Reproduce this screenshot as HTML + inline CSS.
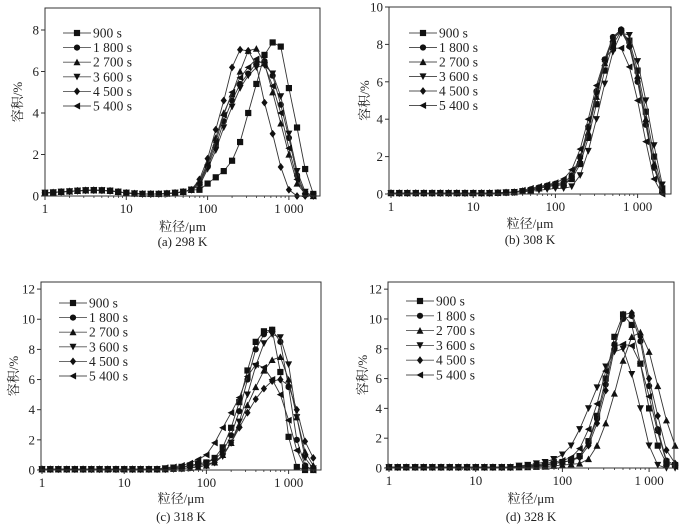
<!DOCTYPE html>
<html><head><meta charset="utf-8">
<style>
html,body{margin:0;padding:0;background:#fff;}
svg{display:block;}
text{font-family:"Liberation Serif","Noto Serif CJK SC",serif;fill:#222;}
</style></head>
<body>
<svg id="chart" width="685" height="529" viewBox="0 0 685 529" xmlns="http://www.w3.org/2000/svg"></svg>
<script>
// ---- data ----
const xSizes = [1,1.26,1.58,2,2.51,3.16,3.98,5.01,6.31,7.94,10,12.6,15.8,20,25.1,31.6,39.8,50.1,63.1,79.4,100,126,158,200,251,316,398,501,631,794,1000,1259,1585,1995];
const seriesNames = ["900 s","1 800 s","2 700 s","3 600 s","4 500 s","5 400 s"];
const xTickValues = [1,10,100,1000];
const xTickLabels = ["1","10","100","1 000"];
const yTicksA = [0,2,4,6,8];
const yTicksB = [0,2,4,6,8,10];
const yTicksC = [0,2,4,6,8,10,12];
const yTicksD = [0,2,4,6,8,10,12];

const lowA = [0.15,0.17,0.2,0.22,0.25,0.27,0.28,0.27,0.25,0.2,0.15,0.12,0.1,0.1,0.1,0.12,0.15,0.2,0.3];
const a900  = [...lowA,0.3,0.6,0.9,1.2,1.7,2.6,4.0,5.4,6.8,7.4,7.2,5.2,3.3,1.3,0.1];
const a1800 = [...lowA,0.6,1.4,2.4,3.6,4.6,5.4,5.9,6.4,6.5,5.8,4.4,2.8,1.0,0.1,0];
const a2700 = [...lowA,0.7,1.6,2.8,4.0,4.9,6.0,7.0,7.1,6.4,5.0,3.5,2.0,0.6,0.1,0];
const a3600 = [...lowA,0.5,1.3,2.2,3.3,4.3,5.2,5.8,6.2,6.3,5.9,4.8,3.0,1.2,0.2,0];
const a4500 = [...lowA,0.8,1.8,3.2,4.6,6.2,7.05,7.0,6.3,4.5,3.0,1.4,0.3,0,0,0];
const a5400 = [...lowA,0.6,1.5,2.6,3.9,5.0,5.7,6.2,6.6,6.3,5.3,4.0,2.3,0.8,0.1,0];

const lowB = [0.05,0.05,0.05,0.05,0.05,0.05,0.05,0.05,0.05,0.05,0.05,0.05,0.05,0.06,0.08];
const b900  = [...lowB,0.1,0.15,0.2,0.3,0.4,0.5,0.5,0.8,1.6,3.0,4.8,6.6,8.0,8.7,8.2,6.6,4.4,2.0,0.3];
const b1800 = [...lowB,0.1,0.15,0.25,0.35,0.45,0.55,0.6,1.0,2.0,3.6,5.5,7.2,8.4,8.8,7.9,6.0,3.7,1.4,0.1];
const b2700 = [...lowB,0.1,0.15,0.2,0.3,0.4,0.45,0.5,0.9,1.8,3.3,5.2,7.0,8.3,8.8,8.0,6.3,4.0,1.6,0.2];
const b3600 = [...lowB,0.1,0.12,0.15,0.2,0.25,0.3,0.3,0.4,1.0,2.3,4.0,5.9,7.6,8.6,8.5,7.1,5.0,2.6,0.5];
const b4500 = [...lowB,0.1,0.15,0.2,0.3,0.4,0.45,0.5,0.9,1.9,3.5,5.4,7.1,8.3,8.7,7.9,6.2,3.9,1.5,0.1];
const b5400 = [...lowB,0.1,0.2,0.3,0.4,0.5,0.6,0.8,1.3,2.4,4.0,5.8,7.2,7.8,7.8,6.8,5.0,2.8,0.8,0];

const lowC = [0.05,0.05,0.05,0.05,0.05,0.05,0.05,0.05,0.05,0.05,0.05,0.05,0.05,0.05,0.05];
const c900  = [...lowC,0.1,0.15,0.2,0.3,0.4,0.5,0.8,1.5,2.8,4.5,6.6,8.5,9.2,9.3,6.5,2.2,0.2,0,0];
const c1800 = [...lowC,0.1,0.15,0.2,0.3,0.4,0.5,0.7,1.2,2.3,3.9,6.0,8.0,9.0,9.3,8.5,5.5,2.0,0.3,0];
const c2700 = [...lowC,0.05,0.08,0.1,0.15,0.2,0.3,0.5,1.0,1.8,3.0,4.3,5.5,6.6,7.3,7.5,6.0,3.5,1.2,0.3];
const c3600 = [...lowC,0.1,0.15,0.2,0.25,0.3,0.4,0.5,0.9,1.8,3.2,5.0,6.9,8.4,9.0,8.8,7.0,3.5,0.8,0.1];
const c4500 = [...lowC,0.05,0.08,0.1,0.15,0.2,0.3,0.5,1.0,1.8,2.8,3.8,4.7,5.4,5.9,6.0,5.6,4.0,1.9,0.8];
const c5400 = [...lowC,0.15,0.2,0.3,0.45,0.7,1.0,1.8,2.8,3.8,4.8,6.2,7.0,6.8,6.0,5.0,3.3,1.3,0.2,0];

const lowD = [0.05,0.05,0.05,0.05,0.05,0.05,0.05,0.05,0.05,0.05,0.05,0.05,0.05,0.05,0.05];
const d900  = [...lowD,0.1,0.12,0.15,0.2,0.3,0.4,0.5,0.8,1.8,3.5,6.0,8.8,10.3,9.6,7.0,4.0,1.5,0.3,0.2];
const d1800 = [...lowD,0.1,0.12,0.15,0.2,0.3,0.4,0.5,0.8,1.7,3.3,5.6,8.3,10.0,10.2,8.5,5.5,2.6,0.5,0.2];
const d2700 = [...lowD,0.05,0.06,0.08,0.1,0.15,0.2,0.25,0.3,0.6,1.5,3.0,5.0,7.2,8.8,9.1,7.8,5.5,3.2,1.5];
const d3600 = [...lowD,0.15,0.2,0.3,0.4,0.6,0.9,1.5,2.6,4.0,5.4,6.8,7.8,8.0,6.3,4.0,1.5,0.2,0,0];
const d4500 = [...lowD,0.1,0.12,0.15,0.2,0.3,0.4,0.5,0.7,1.5,3.0,5.2,8.0,10.3,10.4,8.8,6.0,3.5,1.2,0.3];
const d5400 = [...lowD,0.1,0.15,0.2,0.3,0.4,0.5,0.7,1.3,2.6,4.3,6.5,8.2,8.3,8.2,7.0,4.8,2.4,0.4,0.1];

// ---- layout ----
const panels = [
 {id:"a", L:45,R:320,T:8,B:196, x0:45,dec:81.3, yMax:9.06, yt:yTicksA, series:[a900,a1800,a2700,a3600,a4500,a5400],
  legX:63, legY:33, legDy:14.6, xlabY:231, capY:246, capText:"(a) 298 K", ylabX:18},
 {id:"b", L:389,R:671,T:7,B:194, x0:391,dec:82.2, yMax:10, yt:yTicksB, series:[b900,b1800,b2700,b3600,b4500,b5400],
  legX:409, legY:33, legDy:14.5, xlabY:228, capY:244, capText:"(b) 308 K", ylabX:365},
 {id:"c", L:41,R:321,T:282,B:470, x0:42,dec:82.2, yMax:12.47, yt:yTicksC, series:[c900,c1800,c2700,c3600,c4500,c5400],
  legX:59, legY:303, legDy:14.6, xlabY:503, capY:521, capText:"(c) 318 K", ylabX:14},
 {id:"d", L:388,R:674,T:282,B:468, x0:389,dec:86.7, yMax:12.48, yt:yTicksD, series:[d900,d1800,d2700,d3600,d4500,d5400],
  legX:406, legY:301, legDy:14.8, xlabY:503, capY:521, capText:"(d) 328 K", ylabX:363}
];
const markerKinds = ["square","circle","up","down","diamond","left"];

const NS = "http://www.w3.org/2000/svg";
const svg = document.getElementById("chart");
function mk(tag, attrs, parent){
  const e = document.createElementNS(NS, tag);
  for (const k in attrs) e.setAttribute(k, attrs[k]);
  (parent||svg).appendChild(e);
  return e;
}
function markerPath(kind, x, y){
  const s = 3.1;
  if (kind==="square") return `M${x-s},${y-s}h${2*s}v${2*s}h${-2*s}z`;
  if (kind==="up") return `M${x},${y-s-0.5}L${x+s+0.4},${y+s}L${x-s-0.4},${y+s}z`;
  if (kind==="down") return `M${x},${y+s+0.5}L${x+s+0.4},${y-s}L${x-s-0.4},${y-s}z`;
  if (kind==="diamond") return `M${x},${y-s-0.8}L${x+s},${y}L${x},${y+s+0.8}L${x-s},${y}z`;
  if (kind==="left") return `M${x-s-0.5},${y}L${x+s},${y-s-0.4}L${x+s},${y+s+0.4}z`;
  return "";
}
function drawMarker(g, kind, x, y){
  let m;
  if (kind==="circle") m = mk("circle",{cx:x,cy:y,r:3.1,fill:"#111"},g);
  else m = mk("path",{d:markerPath(kind,x,y),fill:"#111"},g);
  
  
}

panels.forEach(p=>{
  const g = mk("g",{});
  
  
  const xs = v => p.x0 + p.dec*Math.log10(v);
  const ys = v => p.B - (v/p.yMax)*(p.B-p.T);

  p.series.forEach((data, si)=>{
    const sg = mk("g",{},g);
    
    
    const pts = data.map((v,i)=>xs(xSizes[i]).toFixed(2)+","+ys(v).toFixed(2)).join(" ");
    const pl = mk("polyline",{points:pts,fill:"none",stroke:"#333","stroke-width":0.9},sg);
    
    
    data.forEach((v,i)=> drawMarker(sg, markerKinds[si], xs(xSizes[i]), ys(v)));
  });

  const fr = mk("rect",{x:p.L,y:p.T,width:p.R-p.L,height:p.B-p.T,fill:"none",stroke:"#333","stroke-width":1},g);
  
  

  p.yt.forEach(v=>{
    const y = ys(v);
    mk("line",{x1:p.L-4,x2:p.L,y1:y,y2:y,stroke:"#333","stroke-width":1},g);
    const t = mk("text",{x:p.L-6,y:y+4.5,"text-anchor":"end","font-size":13},g);
    t.textContent = v;
    
    
  });
  xTickValues.forEach((v,i)=>{
    const x = xs(v);
    mk("line",{x1:x,x2:x,y1:p.B,y2:p.B+4,stroke:"#333","stroke-width":1},g);
    const t = mk("text",{x:x,y:p.B+17,"text-anchor":"middle","font-size":13},g);
    t.textContent = xTickLabels[i];
    
    
    for (let m=2;m<=9;m++){
      const xm = xs(v*m);
      if (xm < p.R) mk("line",{x1:xm,x2:xm,y1:p.B,y2:p.B+2,stroke:"#333","stroke-width":0.8},g);
    }
  });

  const cx = (p.L+p.R)/2;
  const xl = mk("text",{x:cx,y:p.xlabY,"text-anchor":"middle","font-size":13},g);
  xl.textContent = "粒径/μm";
  
  
  const cy = (p.T+p.B)/2;
  const yl = mk("text",{x:p.ylabX,y:cy,"text-anchor":"middle","font-size":13,transform:`rotate(-90 ${p.ylabX} ${cy})`,dy:4},g);
  yl.textContent = "容积/%";
  
  
  const cap = mk("text",{x:cx,y:p.capY,"text-anchor":"middle","font-size":13},g);
  cap.textContent = p.capText;
  
  

  const lg = mk("g",{},g);
  
  
  seriesNames.forEach((nm,si)=>{
    const y = p.legY + si*p.legDy;
    const eg = mk("g",{},lg);
    
    
    mk("line",{x1:p.legX,x2:p.legX+28,y1:y,y2:y,stroke:"#555","stroke-width":0.9},eg);
    drawMarker(eg, markerKinds[si], p.legX+14, y);
    const t = mk("text",{x:p.legX+30,y:y+4.5,"font-size":13.5},eg);
    t.textContent = nm;
  });
});
</script>
</body></html>
